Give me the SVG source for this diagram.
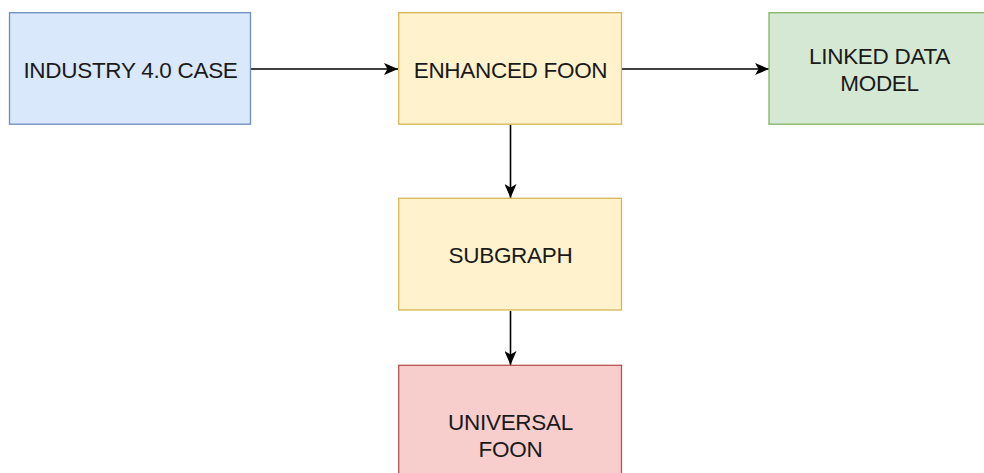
<svg xmlns="http://www.w3.org/2000/svg" width="984" height="473" viewBox="0 0 984 473">
<style>
.box{stroke-width:1.3}
.blue{fill:#dae8fc;stroke:#6c8ebf}
.yellow{fill:#fff2cc;stroke:#d6b656}
.green{fill:#d5e8d4;stroke:#82b366}
.red{fill:#f8cecc;stroke:#b85450}
.lbl{font-family:"Liberation Sans",Arial,Helvetica,sans-serif;font-size:22.5px;letter-spacing:-0.3px;fill:#1a1a1a;text-anchor:middle}
.edge{fill:none;stroke:#000;stroke-width:1.6}
</style>
<defs>
<marker id="arr" markerUnits="userSpaceOnUse" viewBox="0 0 14 12" refX="14" refY="6" markerWidth="14" markerHeight="12" orient="auto">
<path d="M0,0 L14,6 L0,12 L3.5,6 Z" fill="#000"/>
</marker>
</defs>
<rect width="984" height="473" fill="#ffffff"/>
<g id="connectors">
<line class="edge" x1="251" y1="69" x2="398" y2="69" marker-end="url(#arr)"/>
<line class="edge" x1="622" y1="69" x2="769" y2="69" marker-end="url(#arr)"/>
<line class="edge" x1="510.5" y1="125" x2="510.5" y2="198" marker-end="url(#arr)"/>
<line class="edge" x1="510.5" y1="311" x2="510.5" y2="365" marker-end="url(#arr)"/>
</g>
<g id="industry">
<rect class="box blue" x="9.5" y="12.7" width="241" height="111.5"/>
<text class="lbl" x="130.5" y="78.3">INDUSTRY 4.0 CASE</text>
</g>
<g id="enhanced">
<rect class="box yellow" x="398.7" y="12.7" width="222.8" height="111.5"/>
<text class="lbl" x="510.5" y="78.3">ENHANCED FOON</text>
</g>
<g id="linked">
<rect class="box green" x="769" y="12.7" width="222" height="111.5"/>
<text class="lbl" x="879.5" y="64">LINKED DATA</text>
<text class="lbl" x="879.5" y="90.5">MODEL</text>
</g>
<g id="subgraph">
<rect class="box yellow" x="398.7" y="198.3" width="222.8" height="111.7"/>
<text class="lbl" x="510.5" y="262.7">SUBGRAPH</text>
</g>
<g id="universal">
<rect class="box red" x="398.7" y="365.3" width="222.8" height="111.7"/>
<text class="lbl" x="510.5" y="430">UNIVERSAL</text>
<text class="lbl" x="510.5" y="456.5">FOON</text>
</g>
</svg>
